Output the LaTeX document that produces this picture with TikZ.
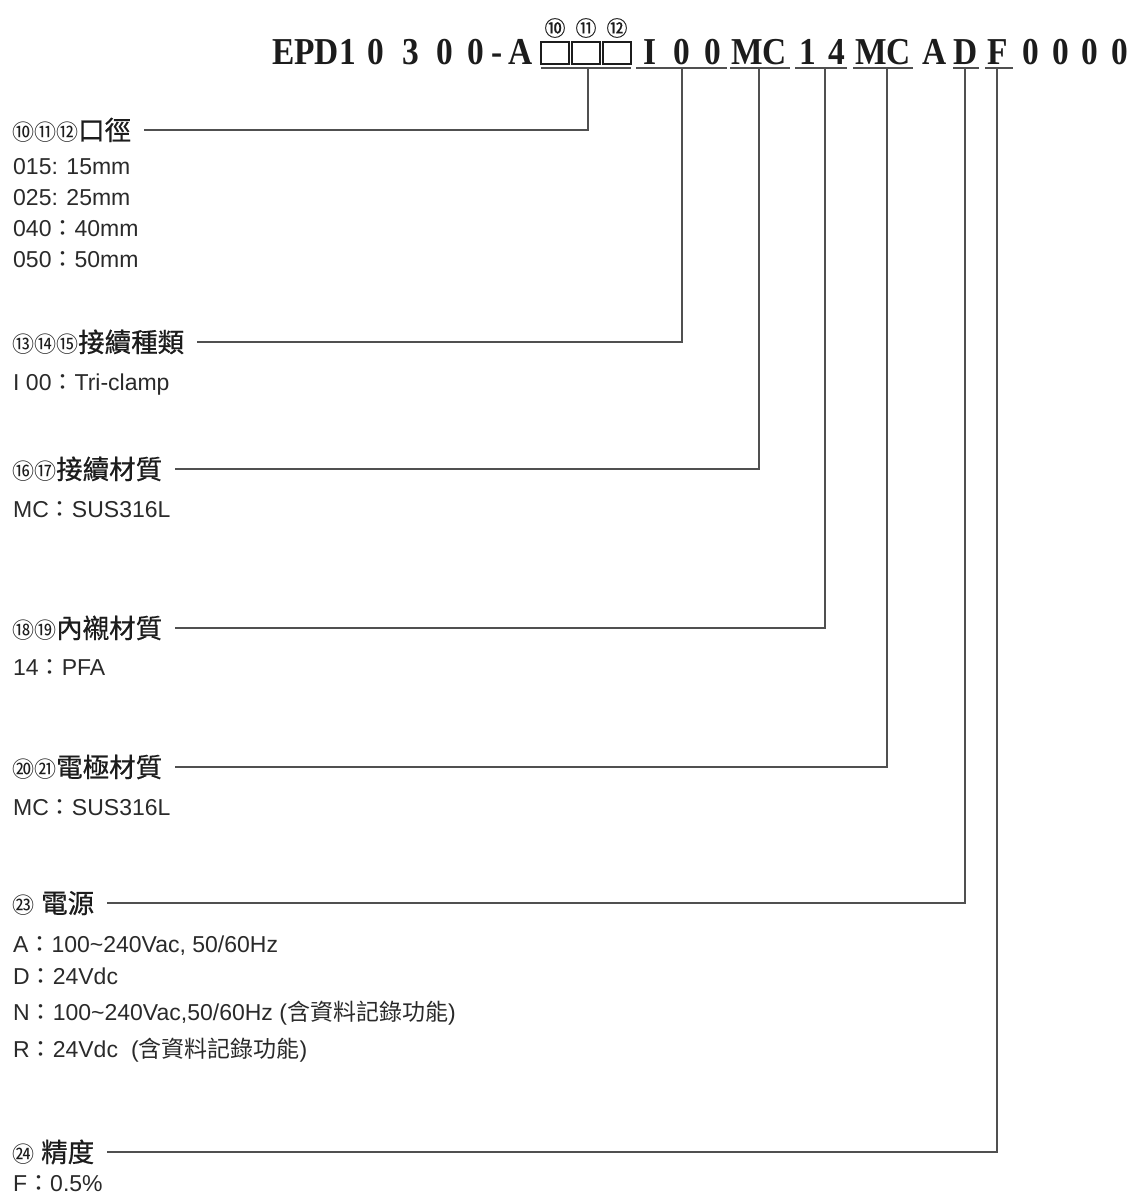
\documentclass[tikz,border=0pt]{standalone}
\usepackage{fontspec}
\setmainfont{Liberation Sans}
\newfontfamily\cjk{Noto Sans CJK TC}
\newfontfamily\cjkh{Noto Sans CJK TC}[FakeBold=0.6]
\newfontfamily\hdrfont{Liberation Serif}[FakeStretch=0.88]
\definecolor{ink}{HTML}{1C1C1C}
\definecolor{itemc}{HTML}{2A2A2A}
\definecolor{linec}{HTML}{505050}
\newcommand\circn[1]{{\cjk\fontsize{22}{22}\selectfont #1}}
\newcommand\hz[1]{{\cjkh\fontsize{26.5}{26.5}\selectfont #1}}
\newcommand\fc{{\cjk ：}}
\newcommand\zh[1]{{\cjk #1}}
\begin{document}
\begin{tikzpicture}[x=1pt,y=-1pt,
  txt/.style={inner sep=0pt, anchor=base west, text=itemc, font=\fontsize{23}{23}\selectfont},
  head/.style={inner sep=0pt, anchor=west, text height=20pt, text depth=0pt, text=ink},
  hch/.style={inner sep=0pt, anchor=base, text=ink, font=\hdrfont\bfseries\fontsize{38}{38}\selectfont},
  circ/.style={inner sep=0pt, text=ink, font=\cjkh\fontsize{21}{21}\selectfont},
  slot/.style={draw=ink, line width=1.3pt, minimum width=28pt, minimum height=22pt, inner sep=0pt},
  conn/.style={draw=linec, line width=1.3pt}]
\fill[white] (0,0) rectangle (1137,1195);
\useasboundingbox (0,0) rectangle (1137,1195);

% header code
\node[hch, anchor=base west] (epd) at (272,64) {EPD1};
\node[hch] (n1) at (376,64) {0};
\node[hch] (n2) at (411,64) {3};
\node[hch] (n3) at (445,64) {0};
\node[hch] (n4) at (476,64) {0};
\node[hch] (dash) at (497,64) {-};
\node[hch] (ha) at (521,64) {A};
\node[slot] (b10) at (555,53) {};
\node[slot] (b11) at (586,53) {};
\node[slot] (b12) at (617,53) {};
\node[circ] (c10) at (555,28) {⑩};
\node[circ] (c11) at (586,28) {⑪};
\node[circ] (c12) at (617,28) {⑫};
\node[hch] (hi) at (650,64) {I};
\node[hch] (h0a) at (682,64) {0};
\node[hch] (h0b) at (713,64) {0};
\node[hch] (hmc1) at (759,64) {MC};
\node[hch] (h1) at (808,64) {1};
\node[hch] (h4) at (837,64) {4};
\node[hch] (hmc2) at (883,64) {MC};
\node[hch] (hA) at (935,64) {A};
\node[hch] (hD) at (966,64) {D};
\node[hch] (hF) at (998,64) {F};
\node[hch] (z1) at (1031,64) {0};
\node[hch] (z2) at (1061,64) {0};
\node[hch] (z3) at (1090,64) {0};
\node[hch] (z4) at (1120,64) {0};

% underline ends and connector tops
\coordinate (u1a) at (541,68); \coordinate (u1b) at (631,68); \coordinate (t1) at (588,68);
\coordinate (u2a) at (636,68); \coordinate (u2b) at (727,68); \coordinate (t2) at (682,68);
\coordinate (u3a) at (730,68); \coordinate (u3b) at (790,68); \coordinate (t3) at (759,68);
\coordinate (u4a) at (795,68); \coordinate (u4b) at (847,68); \coordinate (t4) at (825,68);
\coordinate (u5a) at (853,68); \coordinate (u5b) at (913,68); \coordinate (t5) at (887,68);
\coordinate (u6a) at (953,68); \coordinate (u6b) at (979,68); \coordinate (t6) at (965,68);
\coordinate (u7a) at (985,68); \coordinate (u7b) at (1013,68); \coordinate (t7) at (997,68);
\foreach \i in {1,...,7} {\draw[conn] (u\i a) -- (u\i b);}

% headings
\node[head] (g1) at (12,130) {\circn{⑩⑪⑫}\hz{口徑}};
\node[head] (g2) at (12,342) {\circn{⑬⑭⑮}\hz{接續種類}};
\node[head] (g3) at (12,469) {\circn{⑯⑰}\hz{接續材質}};
\node[head] (g4) at (12,628) {\circn{⑱⑲}\hz{內襯材質}};
\node[head] (g5) at (12,767) {\circn{⑳㉑}\hz{電極材質}};
\node[head] (g6) at (12,903) {\circn{㉓}\hspace{7pt}\hz{電源}};
\node[head] (g7) at (12,1152) {\circn{㉔}\hspace{7pt}\hz{精度}};

\foreach \i in {1,...,7} {\draw[conn] ([xshift=13pt]g\i.east) -| (t\i);}

% items
\node[txt] (i1a) at (13,174) {015: 15mm};
\node[txt] (i1b) at (13,205) {025: 25mm};
\node[txt] (i1c) at (13,236) {040\fc 40mm};
\node[txt] (i1d) at (13,267) {050\fc 50mm};
\node[txt] (i2a) at (13,390) {I 00\fc Tri-clamp};
\node[txt] (i3a) at (13,517) {MC\fc SUS316L};
\node[txt] (i4a) at (13,675) {14\fc PFA};
\node[txt] (i5a) at (13,815) {MC\fc SUS316L};
\node[txt] (i6a) at (13,952) {A\fc 100\textasciitilde240Vac, 50/60Hz};
\node[txt] (i6b) at (13,984) {D\fc 24Vdc};
\node[txt] (i6c) at (13,1020) {N\fc 100\textasciitilde240Vac,50/60Hz (\zh{含資料記錄功能})};
\node[txt] (i6d) at (13,1057) {R\fc 24Vdc\hspace{13pt}(\zh{含資料記錄功能})};
\node[txt] (i7a) at (13,1191) {F\fc 0.5\%};
\end{tikzpicture}
\end{document}
